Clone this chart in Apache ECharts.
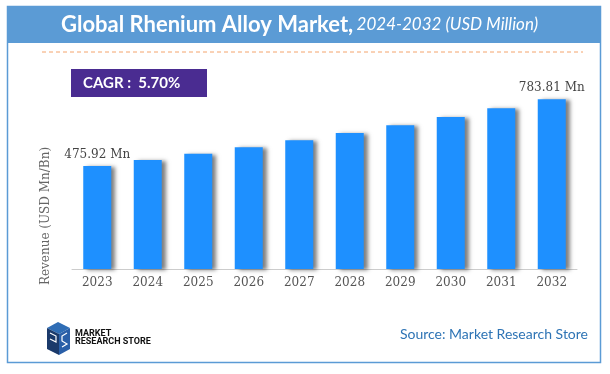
<!DOCTYPE html>
<html>
<head>
<meta charset="utf-8">
<script src="https://cdn.jsdelivr.net/npm/echarts@6/dist/echarts.min.js"></script>
<style>
html,body{margin:0;padding:0;background:#fff;}
#chart{width:610px;height:374px;}
</style>
</head>
<body>
<div id="chart"></div>
<script>
const years = ['2023','2024','2025','2026','2027','2028','2029','2030','2031','2032'];
const revenue = [475.92, 503, 532, 562, 594, 628, 664, 702, 742, 783.81];
const labelledIdx = [0, 9];
const titleMain = 'Global Rhenium Alloy Market,';
const titleSub = '2024-2032 (USD Million)';
const cagrText = 'CAGR :  5.70%';
const yName = 'Revenue (USD Mn/Bn)';
const sourceText = 'Source: Market Research Store';

const chart = echarts.init(document.getElementById('chart'), null, {renderer:'canvas'});

const barData = revenue.map((v, i) => ({
  value: v,
  label: { show: labelledIdx.indexOf(i) >= 0 }
}));

const option = {
  animation: false,
  backgroundColor: '#ffffff',
  grid: { left: 72, right: 33, top: 74, bottom: 105 },
  xAxis: {
    type: 'category',
    data: years,
    axisLine: { show: true, lineStyle: { color: '#cccccc', width: 1 } },
    axisTick: { show: false },
    axisLabel: { color: '#555555', fontFamily: 'DejaVu Serif', fontSize: 12, margin: 8 }
  },
  yAxis: {
    type: 'value', min: 0, max: 900, show: false,
    splitLine: { show: false }
  },
  series: [{
    type: 'bar',
    data: barData,
    barWidth: 28,
    itemStyle: {
      color: '#1E90FF',
      shadowColor: 'rgba(0,0,0,0.5)',
      shadowBlur: 4,
      shadowOffsetX: 4,
      shadowOffsetY: 1
    },
    label: {
      show: false,
      position: 'top',
      distance: 5,
      color: '#444444',
      fontFamily: 'DejaVu Serif',
      fontSize: 12,
      formatter: p => p.value.toFixed(2) + ' Mn'
    }
  }],
  graphic: [
    { type: 'rect', shape: { x: 7.5, y: 6.5, width: 593, height: 356 },
      style: { fill: 'none', stroke: '#5B9BD5', lineWidth: 1.5 }, z: 1 },
    { type: 'rect', shape: { x: 7, y: 6, width: 594, height: 37 },
      style: { fill: '#5B9BD5' }, z: 2 },
    { type: 'text', x: 61, y: 25, z: 3,
      style: {
        text: '{b|' + titleMain + '} {i|' + titleSub + '}',
        verticalAlign: 'middle', align: 'left',
        rich: {
          b: { fontFamily: 'Lato', fontWeight: 'bold', fontSize: 22, fill: '#ffffff' },
          i: { fontFamily: 'Lato', fontStyle: 'italic', fontSize: 17, fill: '#ffffff' }
        }
      } },
    { type: 'line', shape: { x1: 42, y1: 52, x2: 583, y2: 52 },
      style: { stroke: '#F4A46C', lineWidth: 1, lineDash: [4, 3] }, z: 2 },
    { type: 'rect', shape: { x: 71, y: 69, width: 136, height: 28 },
      style: { fill: '#4A2C91' }, z: 2 },
    { type: 'text', x: 83, y: 83.5, z: 3,
      style: { text: cagrText, fill: '#ffffff', fontFamily: 'Lato', fontWeight: 'bold', fontSize: 15,
        verticalAlign: 'middle', align: 'left' } },
    { type: 'text', x: 46, y: 216, rotation: Math.PI / 2, z: 3,
      style: { text: yName, fill: '#666666', fontFamily: 'DejaVu Serif', fontSize: 12,
        align: 'center', verticalAlign: 'middle' } },
    { type: 'text', x: 588, y: 334, z: 3,
      style: { text: sourceText, fill: '#2E74B5', fontFamily: 'Lato', fontSize: 14,
        align: 'right', verticalAlign: 'middle' } },
    { type: 'polygon', shape: { points: [[47,328],[58,322],[70,328],[59,334]] },
      style: { fill: '#2F6DB5' }, z: 3 },
    { type: 'polygon', shape: { points: [[47,328],[59,334],[59,355],[47,349]] },
      style: { fill: '#1B3A6B' }, z: 3 },
    { type: 'polygon', shape: { points: [[59,334],[70,328],[70,349],[59,355]] },
      style: { fill: '#2A5FA8' }, z: 3 },
    { type: 'polyline', shape: { points: [[50,333],[56,336],[56,342],[50,339]] },
      style: { stroke: '#ffffff', lineWidth: 1.2, fill: 'none' }, z: 4 },
    { type: 'polyline', shape: { points: [[67,333],[62,336],[62,341],[67,344],[62,347]] },
      style: { stroke: '#ffffff', lineWidth: 1.2, fill: 'none' }, z: 4 },
    { type: 'text', x: 75, y: 333.5, z: 3,
      style: { text: 'MARKET', fill: '#111111', fontFamily: 'Roboto', fontWeight: 'bold', fontSize: 9,
        align: 'left', verticalAlign: 'middle' } },
    { type: 'text', x: 75, y: 341.5, z: 3,
      style: { text: 'RESEARCH STORE', fill: '#111111', fontFamily: 'Roboto', fontWeight: 'bold', fontSize: 9,
        align: 'left', verticalAlign: 'middle' } }
  ]
};
chart.setOption(option);
</script>
</body>
</html>
